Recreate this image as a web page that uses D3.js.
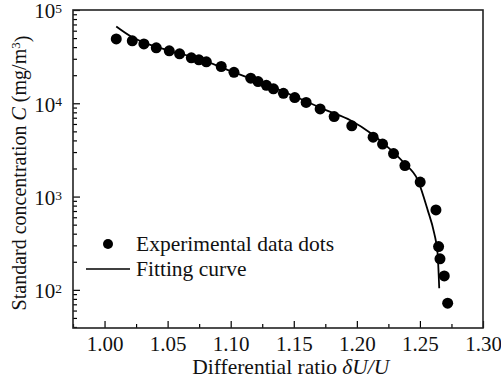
<!DOCTYPE html>
<html>
<head>
<meta charset="utf-8">
<script src="https://cdn.jsdelivr.net/npm/d3@7"></script>
<style>
  body { margin: 0; background: #fff; }
  svg text { font-family: "Liberation Serif", "DejaVu Serif", "Times New Roman", serif !important; fill: #111; }
</style>
</head>
<body>
<div id="chart"></div>
<script>
// experimental data dots
var ratio = [1.0093, 1.022, 1.0312, 1.041, 1.0513, 1.0595, 1.0688, 1.0748, 1.0807, 1.0925,
  1.1026, 1.1159, 1.1217, 1.1283, 1.1339, 1.1418, 1.1508, 1.1598, 1.1709, 1.182,
  1.196, 1.2129, 1.2204, 1.2291, 1.2381, 1.2502, 1.2627, 1.2648, 1.2659, 1.2693, 1.272];
var conc = [49000, 46700, 43300, 39300, 36500, 33900, 30700, 29200, 27800, 24800,
  21500, 18600, 17100, 15600, 14300, 12800, 11500, 10200, 8700, 7200,
  5730, 4330, 3650, 2890, 2150, 1430, 720, 291, 215, 141, 72];

// fitting curve
var fitRatio = [1.0093, 1.022, 1.031, 1.05, 1.075, 1.10, 1.12, 1.145, 1.175, 1.1952,
  1.2111, 1.227, 1.2375, 1.2482, 1.2561, 1.2613, 1.264, 1.2653];
var fitConc = [66400, 51000, 45000, 37000, 29900, 22200, 17500, 12800, 8500, 6530,
  4770, 3160, 2280, 1510, 720, 405, 247, 104];

var xTicks = [1.00, 1.05, 1.10, 1.15, 1.20, 1.25, 1.30];
var yTicks = [100, 1000, 10000, 100000];

var width = 501, height = 385;
var margin = { top: 10, right: 18, bottom: 57, left: 73 };
var w = width - margin.left - margin.right;
var h = height - margin.top - margin.bottom;
var fs = "21px", fsSup = "13.5px";

var svg = d3.select("#chart").append("svg")
  .attr("width", width)
  .attr("height", height);

var g = svg.append("g")
  .attr("transform", "translate(" + margin.left + "," + margin.top + ")");

var x = d3.scaleLinear().domain([0.975, 1.30]).range([0, w]);
var y = d3.scaleLog().domain([39, 100000]).range([h, 0]);

// minor ticks
var xMinor = d3.range(0.975, 1.30, 0.05).map(function (d) { return +d.toFixed(3); });
var yMinor = [];
[10, 100, 1000, 10000].forEach(function (p) {
  for (var k = 2; k <= 9; k++) {
    var v = p * k;
    if (v >= 39 && v < 100000) yMinor.push(v);
  }
});

g.append("g")
  .attr("transform", "translate(0," + h + ")")
  .call(d3.axisBottom(x).tickValues(xMinor).tickSize(-4).tickFormat(""))
  .call(function (a) { a.select(".domain").remove(); a.selectAll("line").attr("stroke-width", 1.2); });

g.append("g")
  .call(d3.axisLeft(y).tickValues(yMinor).tickSize(-4).tickFormat(""))
  .call(function (a) { a.select(".domain").remove(); a.selectAll("line").attr("stroke-width", 1.2); });

// major ticks
var xAx = g.append("g")
  .attr("transform", "translate(0," + h + ")")
  .call(d3.axisBottom(x).tickValues(xTicks).tickSize(-7).tickPadding(8).tickFormat(d3.format(".2f")));
xAx.select(".domain").remove();
xAx.selectAll("line").attr("stroke-width", 1.2);
xAx.selectAll("text").style("font-size", fs).attr("fill", "#111");

var yAx = g.append("g")
  .call(d3.axisLeft(y).tickValues(yTicks).tickSize(-7).tickFormat(""));
yAx.select(".domain").remove();
yAx.selectAll("line").attr("stroke-width", 1.2);
yAx.selectAll(".tick").each(function (d) {
  var t = d3.select(this).append("text")
    .attr("x", -11)
    .attr("dy", "0.38em")
    .attr("text-anchor", "end")
    .style("font-size", fs);
  t.append("tspan").text("10");
  t.append("tspan").attr("dy", "-0.4em").style("font-size", fsSup).text(Math.round(Math.log10(d)));
});

// frame
g.append("rect")
  .attr("width", w)
  .attr("height", h)
  .attr("fill", "none")
  .attr("stroke", "#222")
  .attr("stroke-width", 1.6);

// fitting curve
var fit = fitRatio.map(function (d, i) { return [d, fitConc[i]]; });
g.append("path")
  .datum(fit)
  .attr("fill", "none")
  .attr("stroke", "#000")
  .attr("stroke-width", 1.8)
  .attr("d", d3.line()
    .x(function (d) { return x(d[0]); })
    .y(function (d) { return y(d[1]); })
    .curve(d3.curveMonotoneX));

// data dots
g.selectAll("circle.dot")
  .data(ratio)
  .enter().append("circle")
  .attr("class", "dot")
  .attr("r", 5.5)
  .attr("cx", function (d) { return x(d); })
  .attr("cy", function (d, i) { return y(conc[i]); })
  .attr("fill", "#000");

// legend
var lg = svg.append("g");
lg.append("circle").attr("cx", 108).attr("cy", 244).attr("r", 5).attr("fill", "#000");
lg.append("text").attr("x", 136).attr("y", 251).style("font-size", "21.5px").text("Experimental data dots");
lg.append("line").attr("x1", 86).attr("x2", 130).attr("y1", 269).attr("y2", 269)
  .attr("stroke", "#000").attr("stroke-width", 1.5);
lg.append("text").attr("x", 136).attr("y", 276).style("font-size", "21.5px").text("Fitting curve");

// axis titles
var xt = svg.append("text")
  .attr("x", margin.left + x(1.15) - 3)
  .attr("y", 374)
  .attr("text-anchor", "middle")
  .style("font-size", "21.5px");
xt.append("tspan").text("Differential ratio ");
xt.append("tspan").style("font-style", "italic").text("\u03B4U/U");

var yt = svg.append("text")
  .attr("transform", "translate(26,173) rotate(-90)")
  .attr("text-anchor", "middle")
  .style("font-size", "20px");
yt.append("tspan").text("Standard concentration ");
yt.append("tspan").style("font-style", "italic").text("C");
yt.append("tspan").text(" (mg/m");
yt.append("tspan").attr("dy", "-0.45em").style("font-size", "13px").text("3");
yt.append("tspan").attr("dy", "0.45em").text(")");
</script>
</body>
</html>
